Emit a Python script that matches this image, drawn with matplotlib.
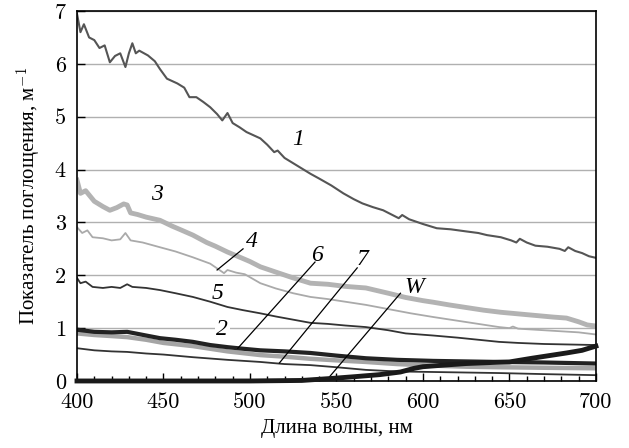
import numpy as np
import matplotlib
matplotlib.use("Agg")
import matplotlib.pyplot as plt
from matplotlib.ticker import MultipleLocator

plt.rcParams['font.family'] = ['Liberation Serif', 'DejaVu Serif']
plt.rcParams['mathtext.fontset'] = 'cm'

# curve 1
wl1 = [400, 402, 404, 407, 410, 413, 416, 419, 422, 425, 428, 430, 432, 434, 436, 441, 445, 448,
       452, 458, 462, 465, 469, 473, 477, 481, 484, 487, 490, 494, 498, 502, 506, 510, 514, 516,
       520, 525, 530, 535, 540, 547, 554, 560, 565, 571, 577, 583, 586, 588, 592, 600, 608, 616,
       625, 632, 637, 645, 651, 654, 656, 660, 665, 672, 679, 682, 684, 688, 692, 696, 700]
a1 = [6.95, 6.6, 6.75, 6.5, 6.45, 6.3, 6.35, 6.03, 6.15, 6.2, 5.94, 6.2, 6.39, 6.2, 6.25, 6.16, 6.05, 5.9,
      5.72, 5.63, 5.55, 5.37, 5.37, 5.28, 5.18, 5.05, 4.93, 5.07, 4.88, 4.80, 4.71, 4.65, 4.59, 4.47, 4.33, 4.36,
      4.22, 4.12, 4.02, 3.92, 3.83, 3.70, 3.55, 3.44, 3.36, 3.29, 3.23, 3.13, 3.08, 3.14, 3.06, 2.97, 2.89, 2.87,
      2.83, 2.80, 2.76, 2.72, 2.66, 2.62, 2.69, 2.62, 2.56, 2.54, 2.50, 2.46, 2.53, 2.46, 2.42, 2.36, 2.33]

# curve 3
wl3 = [400, 402, 405, 410, 415, 419, 423, 427, 429, 431, 435, 440, 448, 455, 460, 467, 475, 480, 487,
       495, 500, 506, 515, 525, 535, 545, 555, 567, 580, 590, 600, 606, 615, 625, 635, 645, 655, 665,
       675, 683, 690, 695, 700]
a3 = [3.80, 3.55, 3.6, 3.40, 3.30, 3.23, 3.28, 3.35, 3.33, 3.18, 3.15, 3.10, 3.04, 2.93, 2.86, 2.76, 2.62, 2.55, 2.44,
      2.33, 2.26, 2.16, 2.06, 1.95, 1.85, 1.83, 1.79, 1.76, 1.66, 1.58, 1.52, 1.49, 1.44, 1.39, 1.34, 1.30, 1.27, 1.24,
      1.21, 1.19, 1.12, 1.06, 1.04]

# curve 4
wl4 = [400, 403, 406, 409, 415, 420, 425, 428, 431, 438, 448, 457, 467, 477, 485, 487, 492, 497, 506,
       515, 525, 535, 545, 555, 567, 580, 593, 606, 620, 632, 644, 650, 652, 655, 665, 680, 690, 700]
a4 = [2.91, 2.80, 2.85, 2.72, 2.70, 2.66, 2.68, 2.80, 2.66, 2.62, 2.53, 2.45, 2.34, 2.22, 2.04, 2.10, 2.05, 2.02, 1.85,
      1.75, 1.66, 1.59, 1.55, 1.50, 1.44, 1.36, 1.28, 1.21, 1.14, 1.08, 1.02, 1.00, 1.03, 0.99, 0.97, 0.94, 0.92, 0.88]

# curve 5
wl5 = [400, 402, 405, 409, 415, 420, 425, 429, 432, 440, 448, 457, 467, 477, 487, 496, 506, 515, 525,
       535, 545, 555, 567, 580, 590, 606, 620, 632, 644, 655, 670, 685, 700]
a5 = [1.95, 1.85, 1.88, 1.78, 1.76, 1.78, 1.76, 1.83, 1.78, 1.76, 1.72, 1.66, 1.59, 1.50, 1.40, 1.34, 1.28, 1.22, 1.16,
      1.10, 1.08, 1.05, 1.02, 0.96, 0.90, 0.86, 0.82, 0.78, 0.74, 0.72, 0.70, 0.69, 0.68]

# curve 6
wl6 = [400, 410, 420, 429, 440, 448, 457, 467, 477, 487, 496, 506, 520, 535, 550, 567, 585, 606, 625, 644, 670, 700]
a6 = [0.97, 0.93, 0.92, 0.93, 0.86, 0.81, 0.78, 0.74, 0.68, 0.64, 0.61, 0.58, 0.56, 0.53, 0.48, 0.43, 0.40, 0.38,
      0.37, 0.36, 0.35, 0.33]

# curve 2
wl2 = [400, 410, 420, 429, 440, 450, 467, 487, 506, 520, 535, 550, 567, 585, 606, 625, 644, 670, 700]
a2 = [0.90, 0.87, 0.85, 0.83, 0.78, 0.72, 0.66, 0.56, 0.49, 0.46, 0.42, 0.39, 0.36, 0.32, 0.29, 0.27, 0.26, 0.25, 0.24]

# curve 7
wl7 = [400, 410, 420, 429, 440, 450, 467, 487, 506, 520, 535, 550, 567, 585, 606, 625, 644, 670, 700]
a7 = [0.62, 0.58, 0.56, 0.55, 0.52, 0.50, 0.45, 0.40, 0.36, 0.32, 0.30, 0.26, 0.21, 0.18, 0.17, 0.16, 0.15, 0.13, 0.11]

# pure water W
wlw = [400, 450, 500, 530, 548, 560, 575, 587, 595, 600, 612, 625, 640, 650, 663, 673, 683, 692, 700]
aw = [0.0, 0.0, 0.0, 0.01, 0.05, 0.08, 0.12, 0.17, 0.24, 0.27, 0.30, 0.33, 0.35, 0.36, 0.43, 0.48, 0.53, 0.58, 0.66]

fig = plt.figure(figsize=(6.29, 4.48), dpi=100)
ax = fig.add_axes([0.1224, 0.1496, 0.825, 0.8258])

ax.plot(wl1, a1, color='#555555', lw=1.5)
ax.plot(wl3, a3, color='#b3b3b3', lw=3.5)
ax.plot(wl4, a4, color='#aaaaaa', lw=1.3)
ax.plot(wl5, a5, color='#333333', lw=1.3)
ax.plot(wl2, a2, color='#a5a5a5', lw=3.2)
ax.plot(wl6, a6, color='#222222', lw=3.0)
ax.plot(wl7, a7, color='#333333', lw=1.3)
ax.plot(wlw, aw, color='#1a1a1a', lw=3.5, clip_on=False, zorder=5)

ax.set_xlim(400, 700)
ax.set_ylim(0, 7)
ax.xaxis.set_major_locator(MultipleLocator(50))
ax.xaxis.set_minor_locator(MultipleLocator(10))
ax.yaxis.set_major_locator(MultipleLocator(1))
ax.tick_params(axis='both', which='major', direction='in', length=6, width=1,
               labelsize=16, pad=8, labelfontfamily='cmr10')
ax.tick_params(axis='x', which='minor', direction='in', length=3.5, width=1)
ax.grid(axis='y', color='#b0b0b0', lw=1)
ax.set_axisbelow(True)
for s in ax.spines.values():
    s.set_linewidth(1.2)

ax.set_xlabel('Длина волны, нм', fontsize=15, labelpad=5)
ax.set_ylabel('Показатель поглощения, м$^{-1}$', fontsize=15, labelpad=8)

# curve labels
lab_kw = dict(fontsize=17, style='italic', ha='center', va='center')
ax.text(527.7, 4.56, '1', **lab_kw)
ax.text(446, 3.52, '3', **lab_kw)
ax.text(501, 2.63, '4', **lab_kw)
ax.text(481.5, 1.66, '5', **lab_kw)
ax.text(484, 0.98, '2', bbox=dict(facecolor='white', edgecolor='none', pad=1), **lab_kw)
ax.text(539, 2.38, '6', **lab_kw)
ax.text(565, 2.29, '7', **lab_kw)
ax.text(595, 1.76, 'W', **lab_kw)

# leader lines
ax.plot([481, 496], [2.10, 2.50], color='black', lw=0.9)
ax.plot([493, 537.6], [0.62, 2.25], color='black', lw=0.9)
ax.plot([517, 562], [0.34, 2.14], color='black', lw=0.9)
ax.plot([546, 587], [0.08, 1.66], color='black', lw=0.9)

fig.savefig('out.png', dpi=100)
